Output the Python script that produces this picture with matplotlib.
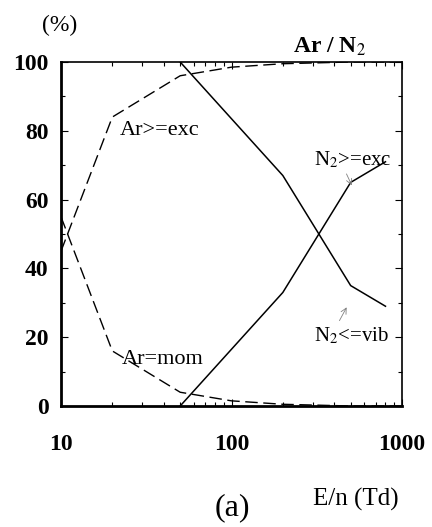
import matplotlib.pyplot as plt
import numpy as np

# Fraction of energy loss (%) vs reduced field E/n (Td) in Ar / N2
en_ar = [10, 20, 50, 100, 200, 500, 1000]
ar_exc = [45, 84, 96, 98.5, 99.5, 100, 100]
ar_mom = [55, 16, 4, 1.5, 0.5, 0, 0]

en_n2 = [50, 200, 500, 800]
n2_exc = [0, 33, 65, 71]
n2_vib = [100, 67, 35, 29]

plt.rcParams['font.family'] = ['Liberation Serif', 'DejaVu Serif']
plt.rcParams['mathtext.fontset'] = 'stix'

fig = plt.figure(figsize=(4.32, 5.27), dpi=100)
ax = fig.add_axes([61 / 432, 1 - 406 / 527, 341 / 432, 344 / 527])

ax.plot(en_ar, ar_exc, color='black', lw=1.0, dashes=(9, 4))
ax.plot(en_ar, ar_mom, color='black', lw=1.0, dashes=(9, 4))
ax.plot(en_n2, n2_exc, color='black', lw=1.1)
ax.plot(en_n2, n2_vib, color='black', lw=1.1)

ax.set_xscale('log')
ax.set_xlim(10, 1000)
ax.set_ylim(0, 100)
ax.set_yticks(np.arange(0, 101, 20))
ax.set_yticks(np.arange(10, 100, 20), minor=True)
ax.set_xticks([10, 100, 1000])
ax.set_xticklabels(['10', '100', '1000'])
ax.tick_params(which='both', direction='in', right=True, top=True, width=0.8)
ax.tick_params(which='major', length=5, labelsize=17)
ax.tick_params(which='minor', length=3)
ax.tick_params(axis='y', which='major', pad=9)
ax.tick_params(axis='x', which='major', pad=20)
for lab in ax.get_xticklabels() + ax.get_yticklabels():
    lab.set_fontweight('bold')
ax.spines['left'].set_linewidth(2.0)
ax.spines['bottom'].set_linewidth(2.0)
ax.spines['top'].set_linewidth(1.2)
ax.spines['right'].set_linewidth(1.2)

# curve labels
ax.text(22.2, 80.2, 'Ar>=exc', fontsize=16, ha='left', va='center')
ax.text(22.8, 13.5, 'Ar=mom', fontsize=16, ha='left', va='center')
ax.text(305, 71.5, r'N$_2$>=exc', fontsize=15, ha='left', va='center')
ax.text(305, 20.5, r'N$_2$<=vib', fontsize=15, ha='left', va='center')
ax.annotate('', xy=(516, 63.4), xytext=(465, 68.2),
            arrowprops=dict(arrowstyle='->', color='gray', lw=0.6))
ax.annotate('', xy=(482, 29.4), xytext=(422, 24.1),
            arrowprops=dict(arrowstyle='->', color='gray', lw=0.6))

fig.text(60 / 432, 1 - 25 / 527, '(%)', fontsize=17, ha='center', va='center')
fig.text(330 / 432, 1 - 47 / 527, r'Ar / N$_2$', fontsize=17, ha='center',
         va='center', fontweight='bold')
fig.text(356 / 432, 1 - 499 / 527, 'E/n (Td)', fontsize=18, ha='center', va='center')
fig.text(232 / 432, 1 - 508 / 527, '(a)', fontsize=23, ha='center', va='center')

fig.savefig('out.png', dpi=100)
